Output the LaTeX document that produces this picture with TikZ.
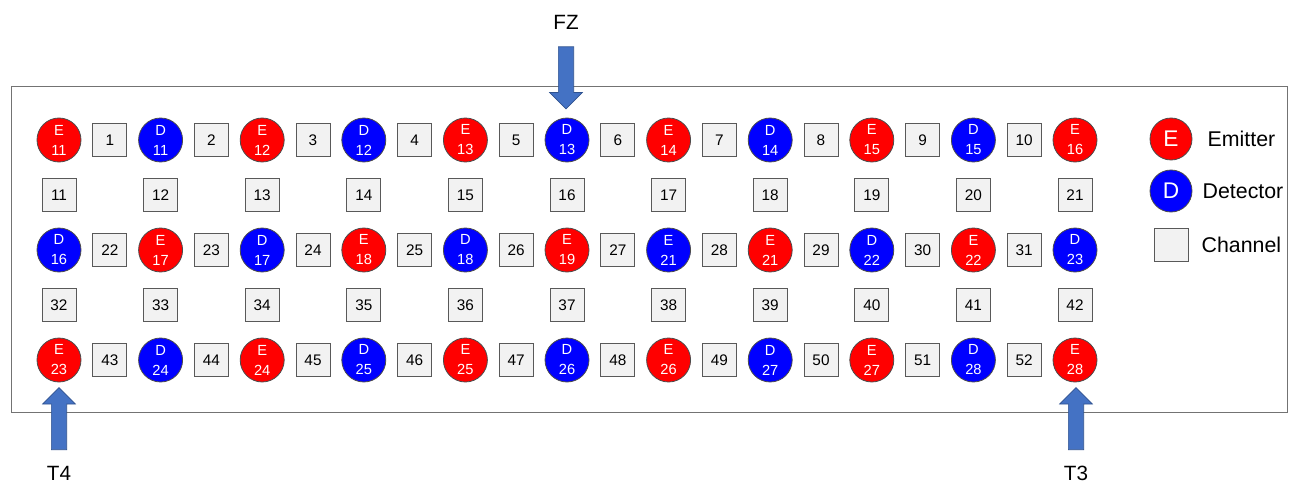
\documentclass[tikz,border=0pt]{standalone}
\usepackage{fontspec}
\setmainfont{Liberation Sans}
\usepackage{xcolor}
\usepackage{tikz}
\usetikzlibrary{shapes.arrows}
\definecolor{arrow_blue}{HTML}{4472C4}
\definecolor{arrow_edge}{HTML}{2F528F}
\definecolor{channel_fill}{HTML}{F2F2F2}
\tikzset{
	% The emitters
	emitter/.style={
		draw=black!70,fill=red,circle,text=white,minimum size=33pt,inner sep=0pt,
		align=center,font=\fontsize{11}{15}\selectfont,line width=0.6pt
	},
	% The detectors
	detector/.style={
		emitter,fill=blue
	},
	% The channels between an emitter and a detector
	channel/.style={
		draw=black!65,fill=channel_fill,rectangle,minimum width=25.5pt,minimum height=24.75pt,
		inner sep=0pt,font=\fontsize{11.5}{13}\selectfont,line width=0.6pt
	},
	% The legend entries
	legend_text/.style={
		anchor=west,font=\fontsize{16}{18}\selectfont
	},
	% The big arrows at the sides
	big_arrow/.style={
		single arrow,draw=arrow_edge,fill=arrow_blue,minimum height=46.5pt,minimum width=24pt,
		single arrow head extend=6.5pt,inner sep=5.5pt,line width=0.5pt
	},
	% The names of the arrows
	arrow_label/.style={
		font=\fontsize{15.5}{17}\selectfont
	},
	% The outline of the board
	frame/.style={
		draw=black!55,line width=0.75pt
	},
}
\begin{document}
\begin{tikzpicture}[x=0.75pt,y=-0.75pt]
		\useasboundingbox (0,0) rectangle (1296,485);
		\draw [frame] (11,87) rectangle (1287,412);

		% First row
		\node [emitter] (Emitter 11) at (59,140) {E\\11};
		\node [channel] (Channel 1) at (109.8,140) {1};
		\node [detector] (Detector 11) at (160.6,140) {D\\11};
		\node [channel] (Channel 2) at (211.4,140) {2};
		\node [emitter] (Emitter 12) at (262.2,140) {E\\12};
		\node [channel] (Channel 3) at (313,140) {3};
		\node [detector] (Detector 12) at (363.8,140) {D\\12};
		\node [channel] (Channel 4) at (414.6,140) {4};
		\node [emitter] (Emitter 13) at (465.4,140) {E\\13};
		\node [channel] (Channel 5) at (516.2,140) {5};
		\node [detector] (Detector 13) at (567,140) {D\\13};
		\node [channel] (Channel 6) at (617.8,140) {6};
		\node [emitter] (Emitter 14) at (668.6,140) {E\\14};
		\node [channel] (Channel 7) at (719.4,140) {7};
		\node [detector] (Detector 14) at (770.2,140) {D\\14};
		\node [channel] (Channel 8) at (821,140) {8};
		\node [emitter] (Emitter 15) at (871.8,140) {E\\15};
		\node [channel] (Channel 9) at (922.6,140) {9};
		\node [detector] (Detector 15) at (973.4,140) {D\\15};
		\node [channel] (Channel 10) at (1024.2,140) {10};
		\node [emitter] (Emitter 16) at (1075,140) {E\\16};

		% Second row
		\node [channel] (Channel 11) at (59,195) {11};
		\node [channel] (Channel 12) at (160.6,195) {12};
		\node [channel] (Channel 13) at (262.2,195) {13};
		\node [channel] (Channel 14) at (363.8,195) {14};
		\node [channel] (Channel 15) at (465.4,195) {15};
		\node [channel] (Channel 16) at (567,195) {16};
		\node [channel] (Channel 17) at (668.6,195) {17};
		\node [channel] (Channel 18) at (770.2,195) {18};
		\node [channel] (Channel 19) at (871.8,195) {19};
		\node [channel] (Channel 20) at (973.4,195) {20};
		\node [channel] (Channel 21) at (1075,195) {21};

		% Third row
		\node [detector] (Detector 16) at (59,250) {D\\16};
		\node [channel] (Channel 22) at (109.8,250) {22};
		\node [emitter] (Emitter 17) at (160.6,250) {E\\17};
		\node [channel] (Channel 23) at (211.4,250) {23};
		\node [detector] (Detector 17) at (262.2,250) {D\\17};
		\node [channel] (Channel 24) at (313,250) {24};
		\node [emitter] (Emitter 18) at (363.8,250) {E\\18};
		\node [channel] (Channel 25) at (414.6,250) {25};
		\node [detector] (Detector 18) at (465.4,250) {D\\18};
		\node [channel] (Channel 26) at (516.2,250) {26};
		\node [emitter] (Emitter 19) at (567,250) {E\\19};
		\node [channel] (Channel 27) at (617.8,250) {27};
		\node [detector] (Detector 21) at (668.6,250) {E\\21};
		\node [channel] (Channel 28) at (719.4,250) {28};
		\node [emitter] (Emitter 21) at (770.2,250) {E\\21};
		\node [channel] (Channel 29) at (821,250) {29};
		\node [detector] (Detector 22) at (871.8,250) {D\\22};
		\node [channel] (Channel 30) at (922.6,250) {30};
		\node [emitter] (Emitter 22) at (973.4,250) {E\\22};
		\node [channel] (Channel 31) at (1024.2,250) {31};
		\node [detector] (Detector 23) at (1075,250) {D\\23};

		% Fourth row
		\node [channel] (Channel 32) at (59,305) {32};
		\node [channel] (Channel 33) at (160.6,305) {33};
		\node [channel] (Channel 34) at (262.2,305) {34};
		\node [channel] (Channel 35) at (363.8,305) {35};
		\node [channel] (Channel 36) at (465.4,305) {36};
		\node [channel] (Channel 37) at (567,305) {37};
		\node [channel] (Channel 38) at (668.6,305) {38};
		\node [channel] (Channel 39) at (770.2,305) {39};
		\node [channel] (Channel 40) at (871.8,305) {40};
		\node [channel] (Channel 41) at (973.4,305) {41};
		\node [channel] (Channel 42) at (1075,305) {42};

		% Fifth row
		\node [emitter] (Emitter 23) at (59,360) {E\\23};
		\node [channel] (Channel 43) at (109.8,360) {43};
		\node [detector] (Detector 24) at (160.6,360) {D\\24};
		\node [channel] (Channel 44) at (211.4,360) {44};
		\node [emitter] (Emitter 24) at (262.2,360) {E\\24};
		\node [channel] (Channel 45) at (313,360) {45};
		\node [detector] (Detector 25) at (363.8,360) {D\\25};
		\node [channel] (Channel 46) at (414.6,360) {46};
		\node [emitter] (Emitter 25) at (465.4,360) {E\\25};
		\node [channel] (Channel 47) at (516.2,360) {47};
		\node [detector] (Detector 26) at (567,360) {D\\26};
		\node [channel] (Channel 48) at (617.8,360) {48};
		\node [emitter] (Emitter 26) at (668.6,360) {E\\26};
		\node [channel] (Channel 49) at (719.4,360) {49};
		\node [detector] (Detector 27) at (770.2,360) {D\\27};
		\node [channel] (Channel 50) at (821,360) {50};
		\node [emitter] (Emitter 27) at (871.8,360) {E\\27};
		\node [channel] (Channel 51) at (922.6,360) {51};
		\node [detector] (Detector 28) at (973.4,360) {D\\28};
		\node [channel] (Channel 52) at (1024.2,360) {52};
		\node [emitter] (Emitter 28) at (1075,360) {E\\28};

		% Legend
		\node [emitter,font=\fontsize{17}{17}\selectfont,minimum size=31.5pt] (Legend emitter) at (1171,139) {E};
		\node [detector,font=\fontsize{17}{17}\selectfont,minimum size=31.5pt] (Legend detector) at (1171,191) {D};
		\node [channel] (Legend channel) at (1171,245) {};
		\node [legend_text] (Emitter text) at (1203,139) {Emitter};
		\node [legend_text] (Detector text) at (1198,191) {Detector};
		\node [legend_text] (Channel text) at (1197,245) {Channel};

		% Arrows
		\node [big_arrow,shape border rotate=270] (FZ arrow) at (566,74) {};
		\node [big_arrow,shape border rotate=90] (T4 arrow) at (59,422.5) {};
		\node [big_arrow,shape border rotate=90] (T3 arrow) at (1076,422.5) {};
		\node [arrow_label] (FZ) at (566,22) {FZ};
		\node [arrow_label] (T4) at (59,473) {T4};
		\node [arrow_label] (T3) at (1076,473) {T3};
	\end{tikzpicture}
\end{document}
